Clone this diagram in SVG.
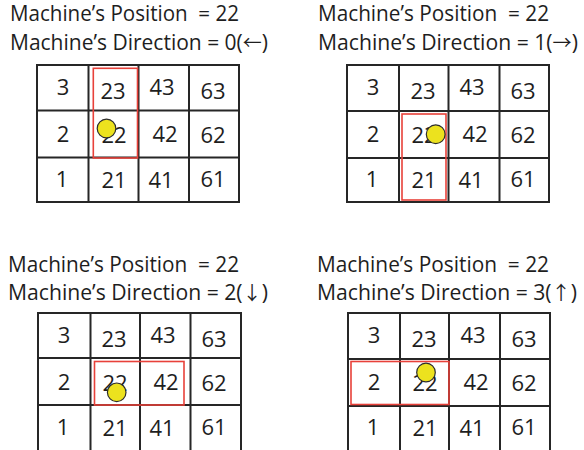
<svg xmlns="http://www.w3.org/2000/svg" width="584" height="450" viewBox="0 0 584 450">
  <style>
    .title { font-family: "Open Sans", "DejaVu Sans", sans-serif; font-size: 21px; fill: #1e1e1e; }
    .arrow { font-family: "Noto Sans CJK JP", "DejaVu Sans", sans-serif; font-size: 19px; }
    .num { font-family: "Open Sans", "DejaVu Sans", sans-serif; font-size: 22px; fill: #1e1e1e; text-anchor: middle; }
    .grid { fill: none; stroke: #262626; stroke-width: 2; }
    .sel { fill: none; stroke: #e8413a; stroke-width: 1.6; }
    .machine { fill: #ece21e; stroke: #2c2c2c; stroke-width: 1.2; }
  </style>
  <defs>
    <!-- cell numbers shared by all four grids, positioned relative to the grid's top-left -->
    <g id="cells">
      <text class="num" x="26" y="30">3</text>
      <text class="num" x="76" y="34">23</text>
      <text class="num" x="125" y="30">43</text>
      <text class="num" x="176" y="34">63</text>
      <text class="num" x="26" y="77">2</text>
      <text class="num" x="77" y="78">22</text>
      <text class="num" x="128" y="77">42</text>
      <text class="num" x="176" y="78">62</text>
      <text class="num" x="25" y="122">1</text>
      <text class="num" x="77" y="123">21</text>
      <text class="num" x="124" y="123">41</text>
      <text class="num" x="176" y="122">61</text>
    </g>
  </defs>

  <!-- direction 0: left -->
  <g id="panel-left">
    <text class="title" x="10" y="21" xml:space="preserve" textLength="229" lengthAdjust="spacingAndGlyphs">Machine’s Position  = 22</text>
    <text class="title" x="10" y="50" textLength="258" lengthAdjust="spacingAndGlyphs">Machine’s Direction = 0(<tspan class="arrow">←</tspan>)</text>
    <rect class="grid" x="37" y="65" width="202" height="137"/>
    <path class="grid" d="M88.5 65V202M138.5 65V202M189 65V202M37 110.5H239M37 157.5H239"/>
    <use href="#cells" x="37" y="65"/>
    <rect class="sel" x="93.3" y="68.3" width="44.2" height="89.7"/>
    <circle class="machine" cx="106.5" cy="128.5" r="9.3"/>
  </g>

  <!-- direction 1: right -->
  <g id="panel-right">
    <text class="title" x="318" y="21" xml:space="preserve" textLength="231" lengthAdjust="spacingAndGlyphs">Machine’s Position  = 22</text>
    <text class="title" x="318" y="50" textLength="260" lengthAdjust="spacingAndGlyphs">Machine’s Direction = 1(<tspan class="arrow">→</tspan>)</text>
    <rect class="grid" x="347" y="65" width="202" height="137"/>
    <path class="grid" d="M399 65V202M448.5 65V202M499.5 65V202M347 111H549M347 158H549"/>
    <use href="#cells" x="347" y="65"/>
    <rect class="sel" x="402" y="114" width="44" height="86"/>
    <circle class="machine" cx="435.7" cy="134.3" r="9.4"/>
  </g>

  <!-- direction 2: down -->
  <g id="panel-down">
    <text class="title" x="8" y="272" xml:space="preserve" textLength="231" lengthAdjust="spacingAndGlyphs">Machine’s Position  = 22</text>
    <text class="title" x="8" y="300" textLength="260" lengthAdjust="spacingAndGlyphs">Machine’s Direction = 2(<tspan class="arrow">↓</tspan>)</text>
    <rect class="grid" x="38" y="313" width="203" height="139"/>
    <path class="grid" d="M90.5 313V452M140 313V452M190.5 313V452M38 358H241M38 405H241"/>
    <use href="#cells" x="38" y="313"/>
    <rect class="sel" x="94.5" y="361.5" width="89.5" height="43.5"/>
    <circle class="machine" cx="116.7" cy="392.3" r="9.3"/>
  </g>

  <!-- direction 3: up -->
  <g id="panel-up">
    <text class="title" x="317" y="272" xml:space="preserve" textLength="232" lengthAdjust="spacingAndGlyphs">Machine’s Position  = 22</text>
    <text class="title" x="317" y="300" textLength="260" lengthAdjust="spacingAndGlyphs">Machine’s Direction = 3(<tspan class="arrow">↑</tspan>)</text>
    <rect class="grid" x="348" y="313" width="202" height="139"/>
    <path class="grid" d="M400 313V452M449 313V452M500 313V452M348 359H550M348 406H550"/>
    <use href="#cells" x="348" y="313"/>
    <rect class="sel" x="351" y="361.5" width="98" height="43"/>
    <circle class="machine" cx="426" cy="372.5" r="9.3"/>
  </g>
</svg>
